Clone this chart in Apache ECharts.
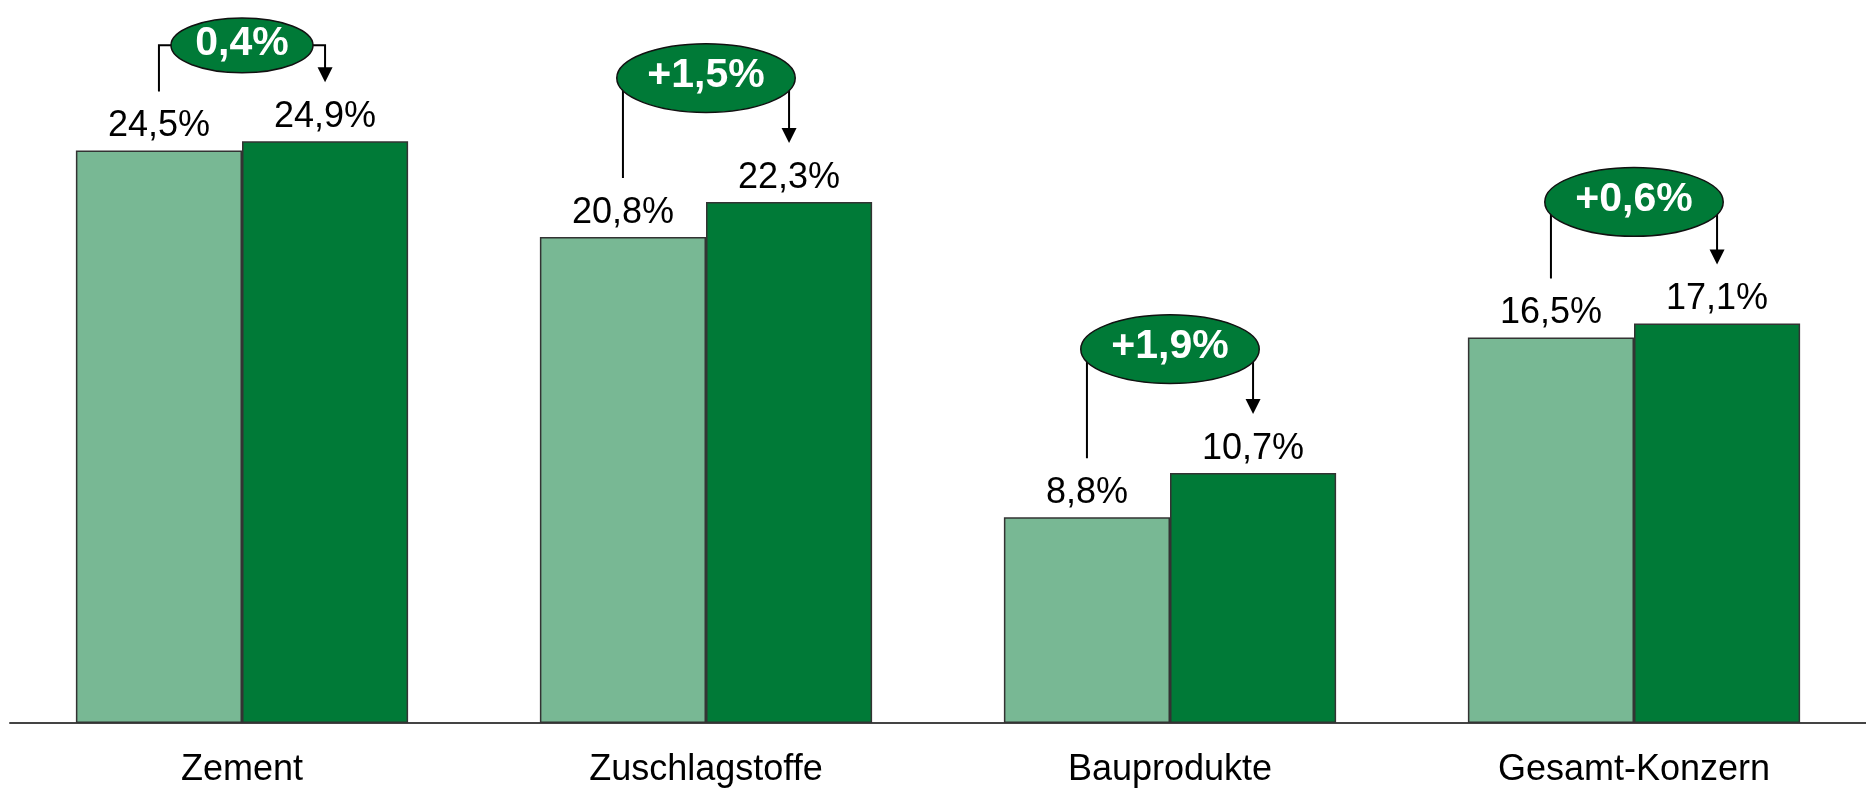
<!DOCTYPE html>
<html>
<head>
<meta charset="utf-8">
<style>
    html, body { margin: 0; padding: 0; background: #fff; }
    #chart { width: 1866px; height: 791px; }
</style>
<script src="https://cdn.jsdelivr.net/npm/echarts@6/dist/echarts.min.js"></script>
</head>
<body>
<div id="chart"></div>
<script>
// Ergebnis-Margen je Segment, Vorjahr vs. laufendes Jahr
const categories = ['Zement', 'Zuschlagstoffe', 'Bauprodukte', 'Gesamt-Konzern'];
const previousYear = [24.5, 20.8, 8.8, 16.5];
const currentYear = [24.9, 22.3, 10.7, 17.1];
const changeLabels = ['0,4%', '+1,5%', '+1,9%', '+0,6%'];
// Höhe der Ellipsen, in Prozentpunkten der y-Achse
const changeLevels = [29.0, 27.6, 16.0, 22.3];

const FONT = '"Liberation Sans", Arial, sans-serif';
const LIGHT = '#78b894';
const DARK = '#007a37';

const measureCtx = document.createElement('canvas').getContext('2d');
measureCtx.font = 'bold 41px ' + FONT;

const fmt = (v) => v.toFixed(1).replace('.', ',') + '%';

const renderChange = (params, api) => {
    const i = params.dataIndex;
    const center = api.coord([api.value(0), 0]);
    const band = api.size([1, 0])[0];
    const off = band * 0.179;
    const cx = center[0];
    const lx = cx - off;
    const rxLine = cx + off;
    const cy = api.coord([i, api.value(3)])[1];
    const leftEnd = api.coord([i, api.value(1)])[1] - 59;
    const tip = api.coord([i, api.value(2)])[1] - 59;

    const tw = measureCtx.measureText(changeLabels[i]).width;
    const erx = tw * 0.76;
    const ery = erx * 0.385;

    const lineStyle = { stroke: '#000', lineWidth: 2, fill: null };

    return {
        type: 'group',
        children: [
            {
                type: 'polyline',
                shape: { points: [[lx, leftEnd], [lx, cy], [cx, cy]] },
                style: lineStyle,
            },
            {
                type: 'polyline',
                shape: { points: [[cx, cy], [rxLine, cy], [rxLine, tip - 14]] },
                style: lineStyle,
            },
            {
                type: 'polygon',
                shape: { points: [[rxLine - 7.5, tip - 15], [rxLine + 7.5, tip - 15], [rxLine, tip]] },
                style: { fill: '#000' },
            },
            {
                type: 'ellipse',
                shape: { cx: cx, cy: cy, rx: erx, ry: ery },
                style: { fill: DARK, stroke: '#111', lineWidth: 1.5 },
            },
            {
                type: 'text',
                x: cx,
                y: cy - 2,
                style: {
                    text: changeLabels[i],
                    fill: '#fff',
                    font: 'bold 41px ' + FONT,
                    align: 'center',
                    verticalAlign: 'middle',
                },
            },
        ],
    };
};

const chart = echarts.init(document.getElementById('chart'));

const valueLabel = {
    show: true,
    position: 'top',
    distance: 6,
    color: '#000',
    fontSize: 36,
    fontFamily: FONT,
    formatter: (p) => fmt(p.value),
};

chart.setOption({
    animation: false,
    grid: {
        left: 10,
        width: 1861,
        top: 22,
        bottom: 68,
    },
    xAxis: {
        type: 'category',
        data: categories,
        axisLine: { lineStyle: { color: '#444', width: 2 } },
        axisTick: { show: false },
        axisLabel: {
            color: '#000',
            fontSize: 36,
            fontFamily: FONT,
            margin: 29,
        },
    },
    yAxis: {
        type: 'value',
        min: 0,
        max: 30,
        show: false,
        splitLine: { show: false },
    },
    series: [
        {
            type: 'bar',
            data: previousYear,
            barWidth: '35.8%',
            barGap: 0,
            itemStyle: { color: LIGHT, borderColor: '#333', borderWidth: 1.5 },
            label: valueLabel,
        },
        {
            type: 'bar',
            data: currentYear,
            barWidth: '35.8%',
            barGap: 0,
            itemStyle: { color: DARK, borderColor: '#333', borderWidth: 1.5 },
            label: valueLabel,
        },
        {
            type: 'custom',
            renderItem: renderChange,
            clip: false,
            z: 5,
            data: categories.map((c, i) => [i, previousYear[i], currentYear[i], changeLevels[i]]),
        },
    ],
});

window.addEventListener('resize', () => chart.resize());
</script>
</body>
</html>
